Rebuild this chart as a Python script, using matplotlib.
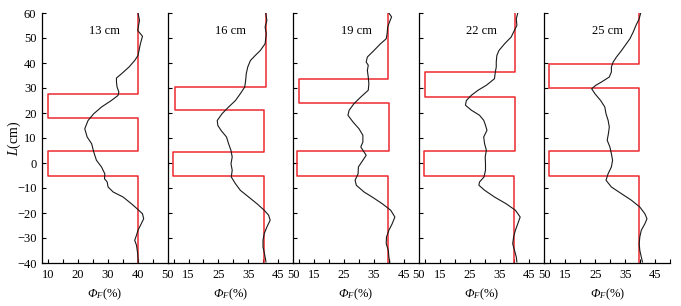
import numpy as np
import matplotlib
matplotlib.use('Agg')
import matplotlib.pyplot as plt

plt.rcParams['font.family'] = ['Liberation Serif', 'DejaVu Serif']
plt.rcParams['mathtext.fontset'] = 'custom'
plt.rcParams['mathtext.rm'] = 'Liberation Serif'
plt.rcParams['mathtext.it'] = 'Liberation Serif:italic'
# capital greek is forced upright in \mathit, so borrow the sf slot for an italic Phi
plt.rcParams['mathtext.sf'] = 'Liberation Serif:italic'

labels = ['13 cm', '16 cm', '19 cm', '22 cm', '25 cm']

# red step profile of each panel: right value, left value, and the four break heights
step_right = [[40.1, 40.1, 40.2], [40.9, 40.4, 40.1], [39.8, 40.1, 39.8],
              [40.2, 40.2, 39.9], [39.7, 39.7, 39.7]]
step_left = [[9.9, 9.9], [10.6, 9.8], [9.8, 9.4], [10.2, 9.7], [9.6, 9.6]]
step_breaks = [[27.6, 17.9, 4.7, -5.0], [30.6, 21.1, 4.4, -5.1], [33.6, 24.1, 4.7, -5.0],
               [36.3, 26.5, 4.7, -5.0], [39.6, 29.9, 4.7, -5.0]]

# black measured profiles (L in cm, phi in %)
L1 = [60, 57, 53, 50.7, 47.7, 43, 41, 38.4, 35.7, 34, 32.4, 30.4, 28.4, 27, 25, 22.4, 19.7, 17,
      13.7, 10.4, 7.7, 4.4, 1.1, -1.6, -4.3, -6.3, -7.6, -9.6, -11.6, -13.6, -16.3, -18.3, -20.3,
      -22.3, -24.3, -26.9, -28.9, -30.9, -32.9, -36.3, -40]
P1 = [40.1, 40.6, 40.0, 41.6, 40.9, 40.1, 39.0, 37.1, 34.6, 32.9, 32.9, 33.1, 33.7, 33.4, 31.2,
      27.9, 25.3, 23.4, 22.3, 23.1, 24.6, 25.3, 26.2, 27.9, 29.0, 28.9, 29.8, 30.1, 31.8, 35.1,
      37.9, 39.8, 41.6, 42.0, 41.2, 40.1, 39.6, 39.0, 39.6, 40.0, 40.2]
L2 = [60, 57, 54.4, 51.7, 47.7, 45, 43, 41, 38.4, 35.7, 33, 30.4, 27.7, 25, 22.4, 19.7, 17, 15,
      13, 10.4, 7.7, 5, 2.4, -0.3, -2.9, -5.6, -8.3, -10.9, -13.6, -16.3, -18.9, -20.9, -22.9,
      -25.6, -28.3, -30.9, -33.6, -36.3, -39.6]
P2 = [40.8, 41.2, 40.6, 41.0, 40.6, 39.0, 37.3, 35.7, 34.8, 34.3, 34.1, 33.8, 32.3, 30.7, 28.4,
      26.2, 24.6, 24.8, 25.9, 27.7, 28.4, 29.2, 29.6, 29.2, 29.6, 29.3, 30.7, 32.3, 35.1, 37.9,
      40.3, 41.8, 42.3, 41.2, 40.3, 39.9, 39.9, 40.4, 40.9]
L3 = [60, 58.4, 56.4, 54.4, 51.7, 49.7, 47.7, 45, 42.4, 40.4, 39.1, 37, 34.4, 31.7, 29.1, 26.4,
      23.7, 21.1, 19.1, 16.4, 13.7, 11.1, 8.4, 6.4, 4.4, 3.1, 1.1, -1.6, -4.3, -6.9, -8.9, -11.6,
      -13.6, -16.3, -18.9, -21.6, -24.3, -26.9, -29.6, -32.3, -34.9, -37.6, -39.6]
P3 = [40.0, 40.9, 40.2, 39.6, 39.4, 39.1, 37.2, 35.0, 32.8, 32.4, 33.1, 32.8, 33.1, 33.3, 33.1,
      30.6, 28.3, 26.7, 26.3, 28.0, 30.0, 31.3, 31.3, 30.6, 31.7, 32.4, 31.3, 29.8, 29.7, 28.7,
      29.1, 31.7, 34.4, 37.8, 40.6, 42.0, 41.1, 40.0, 39.2, 39.1, 39.8, 40.0, 40.3]
L4 = [60, 57.7, 55, 52.4, 50.4, 47.7, 45, 43, 40.4, 38.4, 36.4, 33.7, 31.1, 29.1, 27.1, 25, 23.1,
      21.1, 19.1, 17.1, 15.1, 13.1, 10.4, 7.7, 5.1, 2.4, -0.3, -2.9, -5.6, -7.6, -8.9, -10.9,
      -13.6, -16.3, -18.9, -21.6, -24.3, -26.9, -29.6, -32.3, -34.9, -37.6, -39.6]
P4 = [41.1, 40.6, 40.8, 39.7, 38.9, 36.7, 34.8, 34.1, 33.9, 33.9, 33.6, 33.3, 30.6, 27.8, 25.6,
      23.9, 23.6, 25.6, 28.3, 29.7, 30.3, 30.8, 29.7, 30.0, 30.6, 30.2, 30.3, 30.3, 29.8, 28.3,
      28.1, 30.0, 33.3, 37.2, 40.3, 41.9, 41.1, 40.3, 39.7, 39.4, 40.0, 40.6, 40.8]
L5 = [60, 57.7, 55, 52.4, 49.7, 47.7, 45, 42.4, 40.4, 38.4, 36.4, 34.4, 32.4, 31.1, 29.7, 27.7,
      25, 22.4, 19.7, 17.1, 14.4, 11.7, 9.1, 6.4, 3.7, 1.1, -1.6, -4.3, -6.9, -9.6, -12.3, -14.9,
      -17.6, -20.3, -22.3, -24.3, -26.9, -29.6, -32.3, -34.9, -37.6, -39.6]
P5 = [40.2, 39.7, 38.6, 37.7, 36.6, 35.4, 33.8, 32.1, 31.0, 30.4, 30.4, 29.7, 27.1, 25.2, 23.8,
      24.9, 26.8, 28.2, 28.6, 29.3, 29.7, 29.4, 29.0, 29.9, 30.4, 30.8, 30.4, 29.3, 28.6, 30.4,
      33.8, 37.1, 39.9, 41.6, 42.3, 41.6, 40.4, 39.9, 39.7, 39.9, 40.4, 40.8]
Ls = [L1, L2, L3, L4, L5]
Ps = [P1, P2, P3, P4, P5]

fig = plt.figure(figsize=(6.81, 3.06), dpi=100)
left, bottom, height = 42 / 681, 43 / 306, 250 / 306
w = (670 - 42) / 681 / 5
red = '#ee2a2f'

for i in range(5):
    ax = fig.add_axes([left + i * w, bottom, w, height])
    r = step_right[i]
    lft = step_left[i]
    b = step_breaks[i]
    sx = [r[0], r[0], lft[0], lft[0], r[1], r[1], lft[1], lft[1], r[2], r[2]]
    sy = [60, b[0], b[0], b[1], b[1], b[2], b[2], b[3], b[3], -40]
    ax.plot(sx, sy, color=red, lw=1.1, zorder=2)
    ax.plot(Ps[i], Ls[i], color='#1a1a1a', lw=0.8, zorder=3)
    ax.text(29, 53, labels[i], ha='center', va='center', fontsize=9)

    ax.set_xlim(8, 50)
    ax.set_ylim(-40, 60)
    for s in ['top', 'right']:
        ax.spines[s].set_visible(False)
    for s in ['left', 'bottom']:
        ax.spines[s].set_linewidth(0.9)
    ticks = [10, 15, 20, 25, 30, 35, 40, 45, 50]
    if i == 0:
        tl = ['10', '', '20', '', '30', '', '40', '', '50']
    elif i < 4:
        tl = ['', '15', '', '25', '', '35', '', '45', '50']
    else:
        tl = ['', '15', '', '25', '', '35', '', '45', '']
    ax.set_xticks(ticks)
    ax.set_xticklabels(tl)
    ax.set_yticks(np.arange(-40, 61, 10))
    if i > 0:
        ax.set_yticklabels([])
    ax.tick_params(direction='in', length=3, width=0.8, labelsize=9, pad=4)
    ax.set_xlabel(r'$\mathsf{Φ}_{\mathit{F}}$(%)', fontsize=9, labelpad=4)

fig.text(14 / 681, bottom + height / 2, r'$\mathit{L}$(cm)', rotation=90,
         ha='center', va='center', fontsize=10)

fig.savefig('out.png', dpi=100)
